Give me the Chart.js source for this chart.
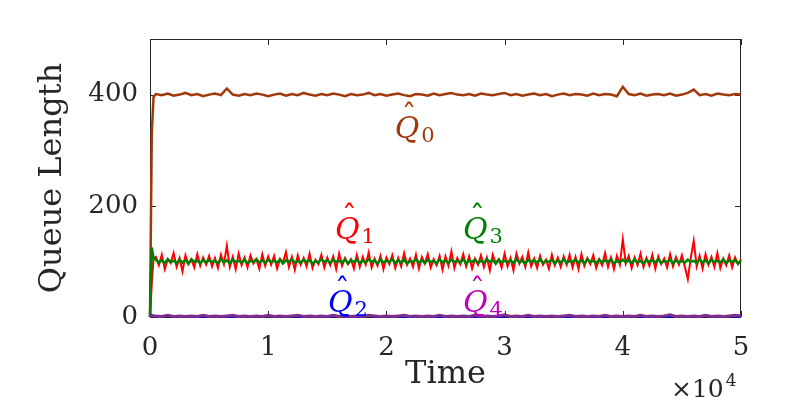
<!DOCTYPE html>
<html>
<head>
<meta charset="utf-8">
<script src="https://cdn.jsdelivr.net/npm/chart.js@4/dist/chart.umd.min.js"></script>
<style>
  html, body { margin: 0; padding: 0; background: #fff; }
  #wrap { width: 806px; height: 414px; }
</style>
</head>
<body>
<div id="wrap"><canvas id="queueChart"></canvas></div>
<script>
// tempos de amostragem (grade grossa) para Q0, Q2, Q4
var times = [0, 150, 300,
  500, 1000, 1500, 2000, 2500, 3000, 3500, 4000, 4500, 5000,
  5500, 6000, 6500, 7000, 7500, 8000, 8500, 9000, 9500, 10000,
  10500, 11000, 11500, 12000, 12500, 13000, 13500, 14000, 14500, 15000,
  15500, 16000, 16500, 17000, 17500, 18000, 18500, 19000, 19500, 20000,
  20500, 21000, 21500, 22000, 22500, 23000, 23500, 24000, 24500, 25000,
  25500, 26000, 26500, 27000, 27500, 28000, 28500, 29000, 29500, 30000,
  30500, 31000, 31500, 32000, 32500, 33000, 33500, 34000, 34500, 35000,
  35500, 36000, 36500, 37000, 37500, 38000, 38500, 39000, 39500, 40000,
  40500, 41000, 41500, 42000, 42500, 43000, 43500, 44000, 44500, 45000,
  45500, 46000, 46500, 47000, 47500, 48000, 48500, 49000, 49500, 50000];

// grade fina para Q1 e Q3
var timesFine = [0, 150, 300,
  500, 750, 1000, 1250, 1500, 1750, 2000, 2250, 2500, 2750, 3000, 3250, 3500, 3750, 4000, 4250, 4500, 4750, 5000,
  5250, 5500, 5750, 6000, 6250, 6500, 6750, 7000, 7250, 7500, 7750, 8000, 8250, 8500, 8750, 9000, 9250, 9500, 9750, 10000,
  10250, 10500, 10750, 11000, 11250, 11500, 11750, 12000, 12250, 12500, 12750, 13000, 13250, 13500, 13750, 14000, 14250, 14500, 14750, 15000,
  15250, 15500, 15750, 16000, 16250, 16500, 16750, 17000, 17250, 17500, 17750, 18000, 18250, 18500, 18750, 19000, 19250, 19500, 19750, 20000,
  20250, 20500, 20750, 21000, 21250, 21500, 21750, 22000, 22250, 22500, 22750, 23000, 23250, 23500, 23750, 24000, 24250, 24500, 24750, 25000,
  25250, 25500, 25750, 26000, 26250, 26500, 26750, 27000, 27250, 27500, 27750, 28000, 28250, 28500, 28750, 29000, 29250, 29500, 29750, 30000,
  30250, 30500, 30750, 31000, 31250, 31500, 31750, 32000, 32250, 32500, 32750, 33000, 33250, 33500, 33750, 34000, 34250, 34500, 34750, 35000,
  35250, 35500, 35750, 36000, 36250, 36500, 36750, 37000, 37250, 37500, 37750, 38000, 38250, 38500, 38750, 39000, 39250, 39500, 39750, 40000,
  40250, 40500, 40750, 41000, 41250, 41500, 41750, 42000, 42250, 42500, 42750, 43000, 43250, 43500, 43750, 44000, 44250, 44500, 44750, 45000,
  45250, 45500, 45750, 46000, 46250, 46500, 46750, 47000, 47250, 47500, 47750, 48000, 48250, 48500, 48750, 49000, 49250, 49500, 49750, 50000];

var q0 = [0, 330, 396,
  401, 399, 402, 398, 400, 403, 399, 401, 397, 400,
  402, 399, 411, 400, 398, 401, 399, 402, 400, 397,
  400, 402, 398, 401, 399, 403, 400, 398, 401, 399,
  402, 400, 397, 401, 399, 400, 403, 399, 401, 398,
  400, 402, 399, 397, 401, 400, 398, 402, 399, 401,
  403, 400, 399, 401, 398, 402, 400, 399, 401, 403,
  399, 401, 398, 400, 402, 399, 401, 397, 400, 402,
  399, 401, 400, 398, 402, 399, 401, 400, 397, 414,
  401, 399, 402, 398, 400, 401, 399, 402, 398, 400,
  403, 409, 399, 401, 398, 402, 400, 399, 401, 400];

var q1 = [0, 60, 105,
  108, 93, 112, 86, 104, 97, 115, 90, 106, 82, 111, 95, 103, 89, 113, 92, 107, 94, 110,
  91, 106, 88, 112, 95, 128, 90, 108, 86, 114, 93, 107, 89, 111, 96, 104, 87, 113, 92, 109,
  94, 110, 87, 105, 98, 117, 90, 108, 85, 111, 94, 106, 91, 114, 88, 103, 95, 112, 89, 107,
  93, 109, 86, 114, 92, 106, 95, 104, 87, 112, 90, 108, 94, 116, 89, 105, 92, 110, 86, 107,
  95, 111, 88, 106, 91, 115, 94, 105, 90, 112, 87, 108, 96, 113, 89, 104, 93, 110, 85, 109,
  92, 118, 88, 106, 95, 113, 91, 109, 87, 105, 94, 111, 90, 107, 84, 112, 96, 104, 89, 114,
  91, 106, 84, 114, 96, 108, 90, 116, 91, 105, 88, 110, 94, 103, 87, 112, 93, 107, 90, 109,
  94, 112, 89, 108, 86, 113, 92, 106, 95, 111, 88, 104, 93, 115, 90, 107, 86, 110, 94, 140,
  96, 110, 88, 107, 93, 114, 90, 106, 92, 112, 87, 109, 95, 105, 89, 113, 91, 108, 94, 111,
  90, 68, 106, 137, 91, 110, 87, 113, 94, 108, 90, 115, 88, 105, 93, 111, 89, 107, 95, 104];

var q3 = [0, 125, 106,
  103, 98, 102, 97, 104, 99, 101, 97, 103, 98, 102, 96, 104, 99, 101, 97, 103, 98, 102,
  99, 101, 97, 104, 98, 102, 96, 103, 99, 101, 98, 103, 97, 101, 99, 104, 98, 102, 97, 103,
  99, 101, 98, 103, 96, 102, 99, 104, 98, 101, 97, 103, 99, 102, 96, 101, 98, 104, 99, 102,
  97, 103, 99, 101, 98, 104, 96, 102, 99, 103, 97, 101, 98, 104, 99, 102, 96, 103, 98, 101,
  99, 104, 97, 102, 98, 103, 96, 101, 99, 104, 98, 102, 97, 103, 99, 101, 96, 104, 98, 102,
  97, 103, 99, 101, 98, 104, 96, 102, 99, 103, 97, 101, 98, 104, 99, 102, 96, 103, 98, 101,
  99, 102, 97, 104, 98, 101, 96, 103, 99, 102, 98, 104, 97, 101, 99, 103, 96, 102, 98, 104,
  97, 101, 99, 103, 98, 102, 96, 104, 99, 101, 97, 103, 98, 102, 99, 104, 96, 101, 98, 103,
  99, 102, 97, 104, 98, 101, 96, 103, 99, 102, 98, 104, 97, 101, 99, 103, 96, 102, 98, 101,
  98, 103, 99, 101, 97, 104, 98, 102, 96, 103, 99, 101, 98, 104, 97, 102, 99, 103, 96, 101];

var q2 = [0, 4, 2,
  1, 0, 2, 1, 0, 1, 2, 0, 1, 0,
  2, 1, 0, 1, 2, 0, 1, 1, 0, 2,
  1, 0, 1, 2, 0, 1, 0, 2, 1, 0,
  1, 2, 0, 1, 0, 1, 2, 0, 1, 0,
  2, 0, 1, 0, 1, 2, 0, 1, 0, 1,
  0, 2, 1, 0, 1, 0, 2, 1, 0, 1,
  2, 0, 1, 0, 2, 1, 0, 1, 2, 0,
  1, 0, 2, 1, 0, 1, 0, 2, 1, 0,
  1, 2, 0, 1, 0, 2, 1, 0, 1, 2,
  0, 1, 0, 2, 1, 0, 1, 2, 0, 1];

var q4 = [0, 3, 2,
  2, 1, 3, 1, 2, 1, 2, 1, 3, 1,
  2, 1, 2, 3, 1, 2, 1, 2, 1, 3,
  1, 2, 1, 2, 3, 1, 2, 1, 2, 1,
  3, 1, 2, 1, 2, 1, 3, 2, 1, 2,
  1, 2, 3, 1, 2, 1, 2, 1, 3, 1,
  2, 1, 2, 1, 3, 1, 2, 1, 2, 4,
  1, 2, 1, 3, 1, 2, 1, 2, 1, 2,
  3, 1, 2, 1, 2, 1, 3, 1, 2, 1,
  2, 1, 3, 1, 2, 1, 2, 4, 1, 2,
  1, 2, 1, 3, 1, 2, 1, 2, 3, 2];

var xTicks = [0, 10000, 20000, 30000, 40000, 50000];
var yTicks = [0, 200, 400];

// rotulos das curvas
var curveNames = ["0", "1", "2", "3", "4"];
var labelTimes = [20700, 15650, 15060, 26480, 26480];
var labelLevels = [322, 140, 9, 140, 9];
var labelColors = ["rgb(160,56,10)", "#ff0000", "#0000ff", "rgb(0,128,0)", "rgb(191,0,191)"];

function pts(xs, ys) {
  return ys.map(function (y, i) { return {x: xs[i], y: y}; });
}

var axisColor = "#262626";
var serif = '"DejaVu Serif", serif';

var framePlugin = {
  id: "frame",
  beforeDatasetsDraw: function (chart) {
    var ctx = chart.ctx, a = chart.chartArea;
    var sx = chart.scales.x, sy = chart.scales.y;
    ctx.save();
    ctx.strokeStyle = axisColor;
    ctx.lineWidth = 1;
    ctx.strokeRect(a.left + 0.5, a.top + 0.5, a.right - a.left - 1, a.bottom - a.top);
    ctx.beginPath();
    xTicks.forEach(function (t) {
      var px = Math.round(sx.getPixelForValue(t)) + 0.5;
      ctx.moveTo(px, a.bottom); ctx.lineTo(px, a.bottom - 6);
      ctx.moveTo(px, a.top); ctx.lineTo(px, a.top + 6);
    });
    yTicks.forEach(function (v) {
      var py = Math.round(sy.getPixelForValue(v)) + 0.5;
      ctx.moveTo(a.left, py); ctx.lineTo(a.left + 6, py);
      ctx.moveTo(a.right, py); ctx.lineTo(a.right - 6, py);
    });
    ctx.stroke();
    ctx.restore();
  },
  afterDraw: function (chart) {
    var ctx = chart.ctx;
    var sx = chart.scales.x, sy = chart.scales.y;
    ctx.save();
    ctx.textBaseline = "alphabetic";
    ctx.textAlign = "left";
    // multiplicador do eixo x
    ctx.fillStyle = axisColor;
    ctx.font = "25px " + serif;
    ctx.fillText("\u00d710", 671, 397);
    var mw = ctx.measureText("\u00d710").width;
    ctx.font = "17px " + serif;
    ctx.fillText("4", 671 + mw + 2, 386);
    // rotulos Q chapeu
    for (var i = 0; i < curveNames.length; i++) {
      var x = sx.getPixelForValue(labelTimes[i]);
      var y = sy.getPixelForValue(labelLevels[i]);
      ctx.fillStyle = labelColors[i];
      ctx.font = "italic 30px " + serif;
      var w = ctx.measureText("Q").width;
      ctx.fillText("Q", x, y);
      ctx.font = "30px " + serif;
      ctx.textAlign = "center";
      ctx.fillText("\u02c6", x + w * 0.58, y - 13);
      ctx.textAlign = "left";
      ctx.font = "21px " + serif;
      ctx.fillText(curveNames[i], x + w + 2, y + 4);
    }
    ctx.restore();
  }
};

var queueData = {
  datasets: [
    {label: "Q4", data: pts(times, q4), borderColor: "rgb(126,47,142)", borderWidth: 3},
    {label: "Q2", data: pts(times, q2), borderColor: "#0000ff", borderWidth: 2},
    {label: "Q3", data: pts(timesFine, q3), borderColor: "rgb(0,128,0)", borderWidth: 2.5},
    {label: "Q1", data: pts(timesFine, q1), borderColor: "#ff0000", borderWidth: 2},
    {label: "Q0", data: pts(times, q0), borderColor: "rgb(160,56,10)", borderWidth: 2.5}
  ]
};

var queueOptions = {
  responsive: true,
  maintainAspectRatio: false,
  animation: false,
  layout: {padding: {top: 39, right: 65, left: 0, bottom: 0}},
  elements: {point: {radius: 0}, line: {tension: 0}},
  datasets: {line: {clip: 4}},
  plugins: {legend: {display: false}, tooltip: {enabled: false}},
  scales: {
    x: {
      type: "linear", min: 0, max: 50000,
      afterFit: function (s) { s.height = 97; },
      afterBuildTicks: function (s) { s.ticks = xTicks.map(function (v) { return {value: v}; }); },
      grid: {display: false, drawTicks: false},
      border: {display: false},
      ticks: {
        padding: 16, color: axisColor, font: {family: serif, size: 26},
        callback: function (v) { return String(v / 10000); }
      },
      title: {display: true, text: "Time", color: axisColor,
        font: {family: serif, size: 32}, padding: {top: 0, bottom: 20}}
    },
    y: {
      min: 0, max: 500,
      afterFit: function (s) { s.width = 150; },
      afterBuildTicks: function (s) { s.ticks = yTicks.map(function (v) { return {value: v}; }); },
      grid: {display: false, drawTicks: false},
      border: {display: false},
      ticks: {padding: 12, color: axisColor, font: {family: serif, size: 26}},
      title: {display: true, text: "Queue Length", color: axisColor,
        font: {family: serif, size: 32}, padding: {top: 33, bottom: 0}}
    }
  }
};

var ctx = document.getElementById("queueChart").getContext("2d");
new Chart(ctx, {type: "line", data: queueData, options: queueOptions, plugins: [framePlugin]});
</script>
</body>
</html>
